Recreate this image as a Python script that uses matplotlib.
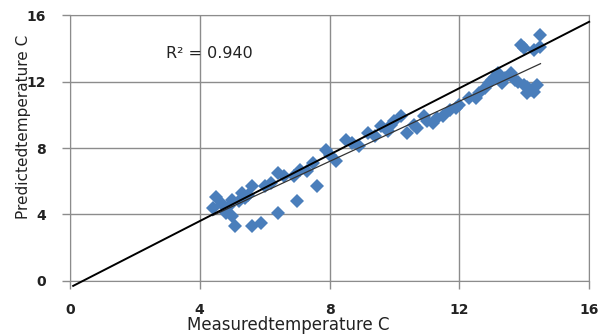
import matplotlib
matplotlib.use("Agg")
from matplotlib import pyplot as plt
import numpy as np

measured = [4.5, 4.4, 4.8, 5.0, 5.3, 5.1, 5.6, 5.9, 5.6, 6.0, 6.4, 6.6, 6.4, 6.9,
            7.0, 7.1, 7.5, 7.6, 7.9, 8.2, 8.5, 8.9, 9.2, 9.6, 9.9, 10.2, 10.4,
            10.7, 11.0, 11.2, 11.5, 11.7, 12.0, 12.3, 12.6, 12.8, 13.0, 13.2,
            13.4, 13.7, 14.0, 14.2, 14.4, 14.1, 13.9, 14.5, 14.5, 4.7, 5.2,
            9.4, 9.8, 10.0, 10.6, 10.9, 11.3, 11.9, 12.5, 12.9, 13.1, 13.3,
            13.6, 13.8, 14.1, 14.3, 14.0, 14.3, 8.0, 8.7, 7.3, 6.2, 5.5, 5.4,
            4.9, 5.0]
predicted = [5.05, 4.4, 4.1, 4.9, 5.3, 3.3, 3.3, 3.5, 5.7, 5.7, 6.5, 6.3, 4.1, 6.3,
             4.8, 6.7, 7.1, 5.7, 7.9, 7.2, 8.5, 8.1, 8.9, 9.3, 9.4, 9.9, 8.9,
             9.2, 9.6, 9.5, 9.9, 10.3, 10.6, 11.0, 11.3, 11.6, 12.1, 12.5,
             12.2, 12.1, 11.8, 11.5, 11.8, 11.3, 14.2, 14.8, 14.1, 4.6, 4.8,
             8.7, 9.0, 9.6, 9.4, 9.9, 9.8, 10.4, 11.0, 11.9, 12.3, 11.9,
             12.5, 12.0, 11.7, 11.4, 14.0, 13.9, 7.6, 8.3, 6.6, 5.9, 5.2, 5.0,
             4.5, 3.9]

ref_x = [0.1, 16.0]
ref_y = [-0.3, 15.6]
r2_text = "R² = 0.940"
ticks = [0, 4, 8, 12, 16]

fig = plt.figure(figsize=(6.08, 3.36), dpi=100)
ax = fig.add_axes([0.115, 0.164, 0.854, 0.791])

ax.plot(measured, predicted, 'D', color='#4A7EBB', markersize=7,
        markeredgewidth=0, zorder=3)

# linear trendline over the data
coef = np.polyfit(measured, predicted, 1)
tx = np.array([min(measured), max(measured)])
ax.plot(tx, np.polyval(coef, tx), color='#333333', lw=0.9, zorder=4)

ax.plot(ref_x, ref_y, color='black', lw=1.4, zorder=5, clip_on=False)

ax.text(2.95, 13.7, r2_text, fontsize=11.5, color='#222222', va='center')

ax.set_xlim(0, 16)
ax.set_ylim(0, 16)
ax.set_xticks(ticks)
ax.set_yticks(ticks)
ax.grid(True, color='#8c8c8c', lw=1)
ax.set_axisbelow(True)
for s in ax.spines.values():
    s.set_color('#8c8c8c')
ax.tick_params(colors='#8c8c8c', length=6, width=1, labelcolor='#222222',
               labelsize=10)
for lab in ax.get_xticklabels() + ax.get_yticklabels():
    lab.set_fontweight('bold')
ax.tick_params(axis='x', pad=10)
ax.tick_params(axis='y', pad=11)

ax.set_xlabel("Measuredtemperature C", fontsize=12, color='#222222')
ax.xaxis.set_label_coords(0.42, -0.132)
ax.set_ylabel("Predictedtemperature C", fontsize=11, color='#222222')
ax.yaxis.set_label_coords(-0.075, 0.58)

fig.savefig("out.png", dpi=100)
